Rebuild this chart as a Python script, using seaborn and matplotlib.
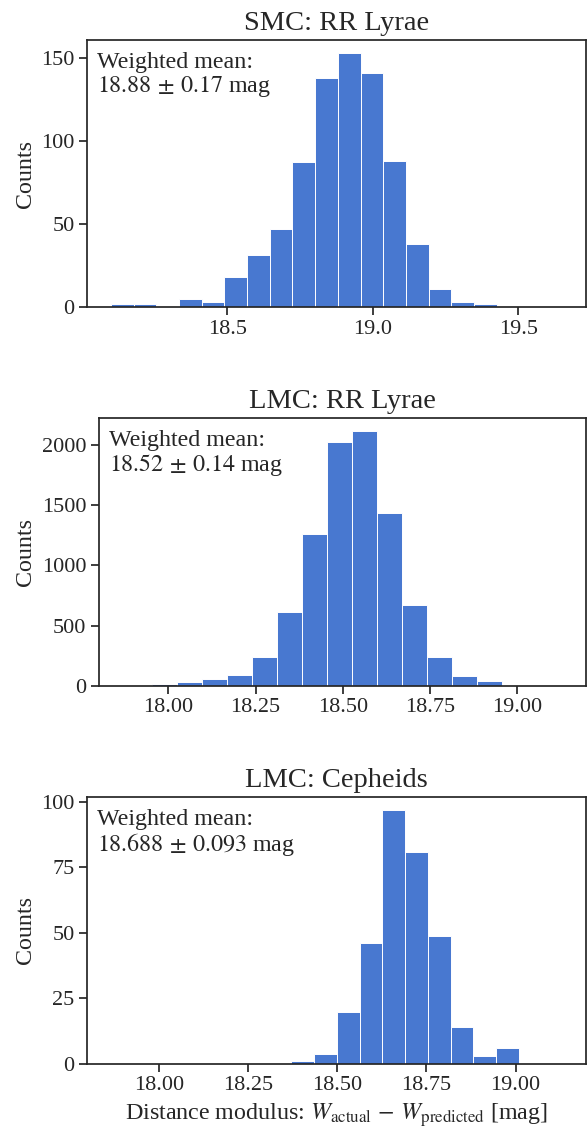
import numpy as np
import pandas as pd
import matplotlib
matplotlib.use("Agg")
import matplotlib.pyplot as plt
import seaborn as sns

# ---- data ----
smc_rr_start = 18.100
smc_rr_width = 0.07794
smc_rr_counts = [2, 2, 0, 5, 3, 18, 31, 47, 87, 138, 153, 141, 88, 38, 11, 3, 2]

lmc_rr_start = 17.8816
lmc_rr_width = 0.07174
lmc_rr_counts = [12, 20, 33, 55, 90, 239, 613, 1259, 2022, 2117, 1437, 669, 244, 85, 40, 12]

lmc_cep_start = 18.3717
lmc_cep_width = 0.06374
lmc_cep_counts = [1, 4, 20, 46, 97, 81, 49, 14, 3, 6]

titles = ["SMC: RR Lyrae", "LMC: RR Lyrae", "LMC: Cepheids"]
means = ["18.88", "18.52", "18.688"]
errors = ["0.17", "0.14", "0.093"]
xlims = [(18.0175, 19.732), (17.8007, 19.198), (17.7987, 19.1976)]
xticks = [[18.5, 19.0, 19.5],
          [18.00, 18.25, 18.50, 18.75, 19.00],
          [18.00, 18.25, 18.50, 18.75, 19.00]]
xticklabels = [["18.5", "19.0", "19.5"],
               ["18.00", "18.25", "18.50", "18.75", "19.00"],
               ["18.00", "18.25", "18.50", "18.75", "19.00"]]
yticks = [[0, 50, 100, 150],
          [0, 500, 1000, 1500, 2000],
          [0, 25, 50, 75, 100]]

sns.set_theme(style="ticks")
plt.rcParams["font.family"] = ["Liberation Serif", "DejaVu Serif"]
plt.rcParams["mathtext.fontset"] = "stix"
plt.rcParams["axes.edgecolor"] = "#262626"
plt.rcParams["axes.linewidth"] = 1.25
plt.rcParams["xtick.major.size"] = 5.5
plt.rcParams["ytick.major.size"] = 5.5
plt.rcParams["xtick.major.width"] = 1.25
plt.rcParams["ytick.major.width"] = 1.25

W, H = 587, 1133
fig = plt.figure(figsize=(W / 100, H / 100), dpi=100)

# axes boxes in pixels: left, top, right, bottom
boxes = [(87, 40, 586, 307), (99, 418, 586, 686), (87, 797, 586, 1064)]

datasets = [(smc_rr_start, smc_rr_width, smc_rr_counts),
            (lmc_rr_start, lmc_rr_width, lmc_rr_counts),
            (lmc_cep_start, lmc_cep_width, lmc_cep_counts)]

color = "#4878d0"
for i, ((start, width, counts), box) in enumerate(zip(datasets, boxes)):
    l, t, r, b = box
    ax = fig.add_axes([l / W, 1 - b / H, (r - l) / W, (b - t) / H])
    n = len(counts)
    edges = start + width * np.arange(n + 1)
    centers = 0.5 * (edges[:-1] + edges[1:])
    df = pd.DataFrame({"mu": centers, "count": np.asarray(counts, dtype=float)})
    sns.histplot(data=df, x="mu", weights="count", bins=list(edges), ax=ax,
                 color=color, alpha=1.0, edgecolor="white", linewidth=0.7)
    ax.set_xlim(*xlims[i])
    ax.set_xticks(xticks[i])
    ax.set_xticklabels(xticklabels[i])
    ax.set_yticks(yticks[i])
    ax.tick_params(axis="both", labelsize=16, colors="#262626", labelcolor="#262626")
    ax.set_ylabel("Counts", fontsize=17.3, color="#262626")
    ax.set_title(titles[i], fontsize=20.5, color="#262626", pad=7)
    ax.text(0.02, 0.955,
            "Weighted mean:\n$%s\\,\\pm\\,%s$ mag" % (means[i], errors[i]),
            transform=ax.transAxes, ha="left", va="top", fontsize=17.3,
            color="#262626", linespacing=1.05)
    for s in ax.spines.values():
        s.set_visible(True)
    if i == 2:
        ax.set_xlabel(r"Distance modulus: $W_\mathrm{actual}\,-\,W_\mathrm{predicted}$ [mag]",
                      fontsize=17.3, color="#262626")
    else:
        ax.set_xlabel("")

fig.savefig("out.png", dpi=100)
